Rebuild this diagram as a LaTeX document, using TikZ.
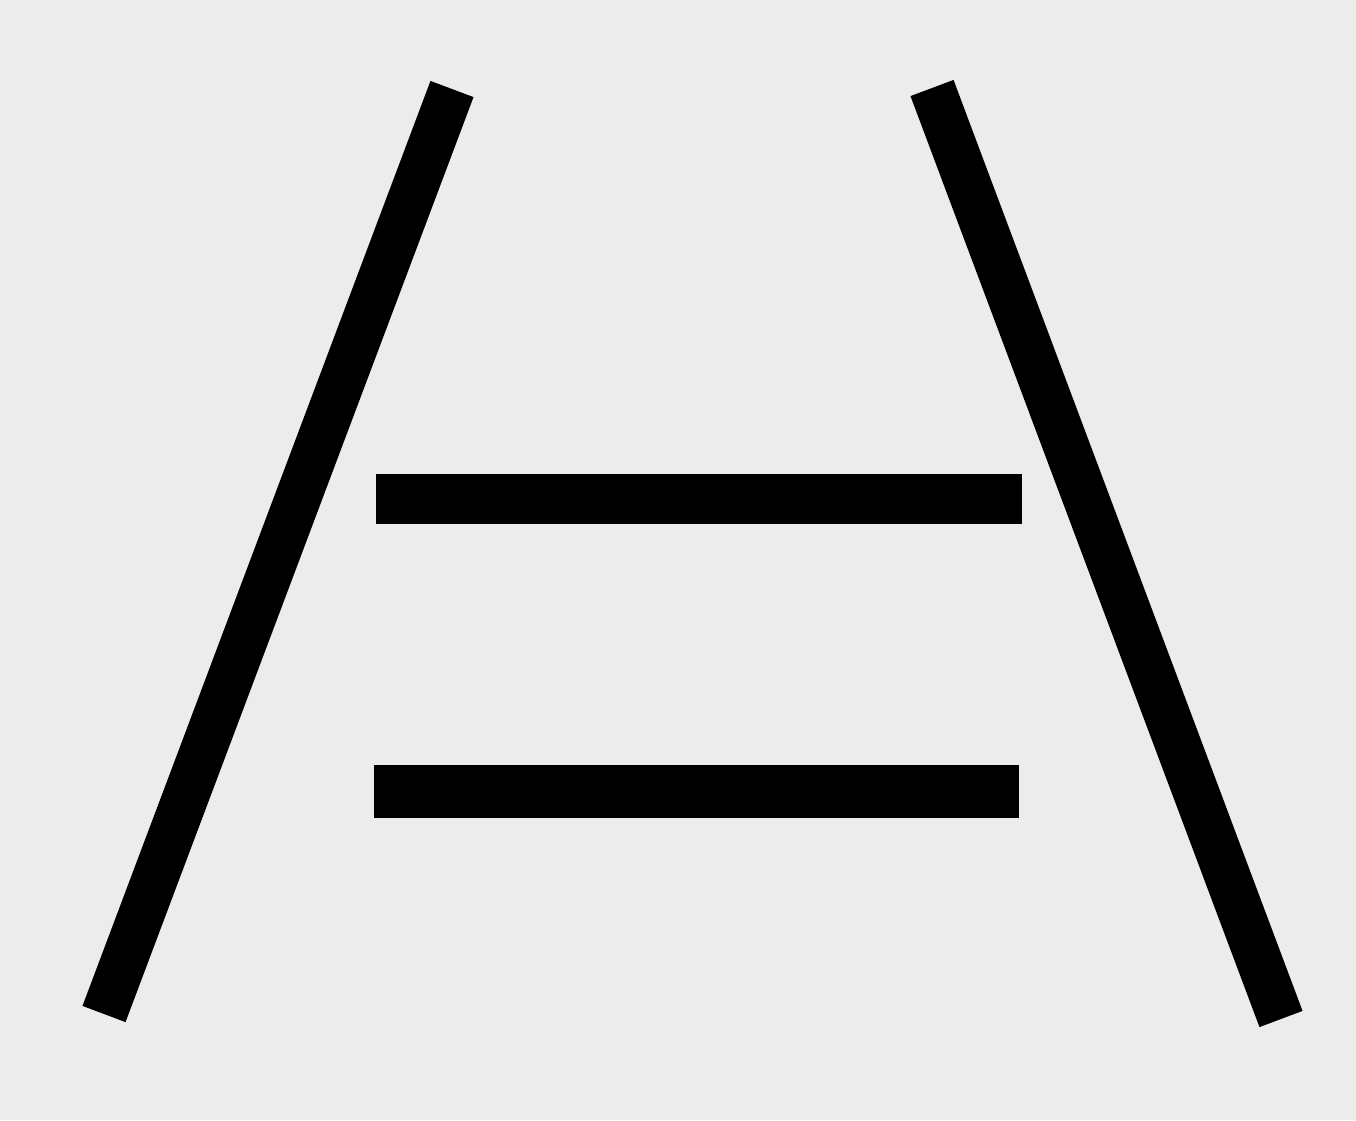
\documentclass[tikz,border=0pt]{standalone}
\begin{document}
\begin{tikzpicture}[x=0.02cm,y=-0.02cm,
  rail/.style={line width=0.92cm,line cap=butt,draw=black},
  bar/.style={fill=black,draw=none}]
\fill[fill={rgb,255:red,236;green,236;blue,236}] (0,0) rectangle (1356,1120);
\useasboundingbox (0,0) rectangle (1356,1120);
\coordinate (lt) at (452,89);
\coordinate (lb) at (104,1014);
\coordinate (rt) at (932,88);
\coordinate (rb) at (1281,1019);
\draw[rail] (lt) -- (lb);
\draw[rail] (rt) -- (rb);
\fill[bar] (376,474) rectangle (1022,524);
\fill[bar] (374,765) rectangle (1019,818);
\end{tikzpicture}
\end{document}
